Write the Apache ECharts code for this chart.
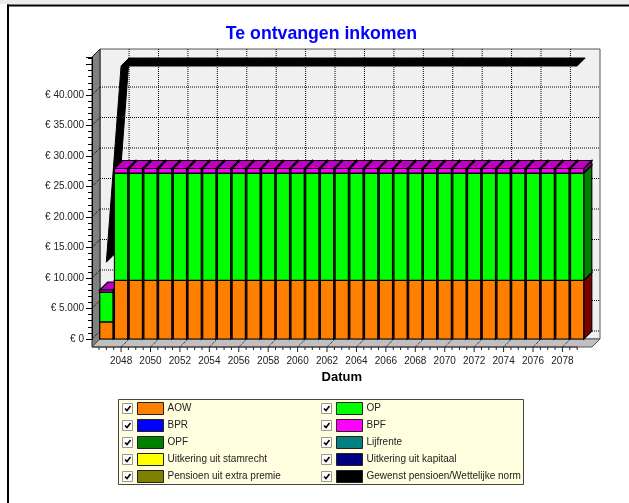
<!DOCTYPE html>
<html>
<head>
<meta charset="utf-8">
<title>Te ontvangen inkomen</title>
<style>
  html, body { margin: 0; padding: 0; background: #fff; }
  #main { width: 629px; height: 503px; }
</style>
<script src="https://cdn.jsdelivr.net/npm/echarts@6/dist/echarts.min.js"></script>
</head>
<body>
<div id="main"></div>
<script>
// data
var jaren = ['2047','2048','2049','2050','2051','2052','2053','2054','2055','2056','2057','2058','2059','2060','2061','2062','2063','2064','2065','2066','2067','2068','2069','2070','2071','2072','2073','2074','2075','2076','2077','2078','2079'];
var aow = [2800,9600,9600,9600,9600,9600,9600,9600,9600,9600,9600,9600,9600,9600,9600,9600,9600,9600,9600,9600,9600,9600,9600,9600,9600,9600,9600,9600,9600,9600,9600,9600,9600];
var bpr = [0,0,0,0,0,0,0,0,0,0,0,0,0,0,0,0,0,0,0,0,0,0,0,0,0,0,0,0,0,0,0,0,0];
var opf = [0,0,0,0,0,0,0,0,0,0,0,0,0,0,0,0,0,0,0,0,0,0,0,0,0,0,0,0,0,0,0,0,0];
var stamrecht = [0,0,0,0,0,0,0,0,0,0,0,0,0,0,0,0,0,0,0,0,0,0,0,0,0,0,0,0,0,0,0,0,0];
var extraPremie = [0,0,0,0,0,0,0,0,0,0,0,0,0,0,0,0,0,0,0,0,0,0,0,0,0,0,0,0,0,0,0,0,0];
var op = [4900,17600,17600,17600,17600,17600,17600,17600,17600,17600,17600,17600,17600,17600,17600,17600,17600,17600,17600,17600,17600,17600,17600,17600,17600,17600,17600,17600,17600,17600,17600,17600,17600];
var bpf = [330,750,750,750,750,750,750,750,750,750,750,750,750,750,750,750,750,750,750,750,750,750,750,750,750,750,750,750,750,750,750,750,750];
var lijfrente = [0,0,0,0,0,0,0,0,0,0,0,0,0,0,0,0,0,0,0,0,0,0,0,0,0,0,0,0,0,0,0,0,0];
var kapitaal = [0,0,0,0,0,0,0,0,0,0,0,0,0,0,0,0,0,0,0,0,0,0,0,0,0,0,0,0,0,0,0,0,0];
var gewenst = [12600,44750,44750,44750,44750,44750,44750,44750,44750,44750,44750,44750,44750,44750,44750,44750,44750,44750,44750,44750,44750,44750,44750,44750,44750,44750,44750,44750,44750,44750,44750,44750,44750];
var yTicks = [0,5000,10000,15000,20000,25000,30000,35000,40000];

var depth = 8;
var dash = [1, 1];

// stacking order of the bars
var stapel = [
  { name: 'AOW', data: aow, color: '#ff8000', side: '#7a0000', top: '#c06000' },
  { name: 'BPR', data: bpr, color: '#0000ff', side: '#000080', top: '#0000c0' },
  { name: 'OPF', data: opf, color: '#008000', side: '#004000', top: '#006000' },
  { name: 'Uitkering uit stamrecht', data: stamrecht, color: '#ffff00', side: '#808000', top: '#c0c000' },
  { name: 'Pensioen uit extra premie', data: extraPremie, color: '#808000', side: '#404000', top: '#606000' },
  { name: 'OP', data: op, color: '#00ff00', side: '#008000', top: '#00c000' },
  { name: 'Lijfrente', data: lijfrente, color: '#008080', side: '#004040', top: '#006060' },
  { name: 'Uitkering uit kapitaal', data: kapitaal, color: '#000080', side: '#000040', top: '#000060' },
  { name: 'BPF', data: bpf, color: '#ff00ff', side: '#800080', top: '#c000c0' }
];

// legend rows, left and right column
var legendaLinks = [['AOW', '#ff8000'], ['BPR', '#0000ff'], ['OPF', '#008000'], ['Uitkering uit stamrecht', '#ffff00'], ['Pensioen uit extra premie', '#808000']];
var legendaRechts = [['OP', '#00ff00'], ['BPF', '#ff00ff'], ['Lijfrente', '#008080'], ['Uitkering uit kapitaal', '#000080'], ['Gewenst pensioen/Wettelijke norm', '#000000']];

function euro(v) {
  return '€ ' + String(v).replace(/\B(?=(\d{3})+$)/g, '.');
}

// walls, floor, dotted grid and the ticks under the floor
function renderDecor(params, api) {
  var cs = params.coordSys;
  var x0 = cs.x + 1, x1 = x0 + 500;
  var yTop = cs.y, yBot = cs.y + cs.height;
  var band = api.size([1, 0])[0];
  var kids = [];
  var edge = { stroke: '#222', lineWidth: 1 };

  kids.push({ type: 'rect', shape: { x: x0, y: yTop - depth, width: 500, height: yBot - yTop + depth },
    style: { fill: '#f0f0f0', stroke: '#555', lineWidth: 1 } });
  kids.push({ type: 'polygon', shape: { points: [[x0 - depth, yTop], [x0, yTop - depth], [x0, yBot], [x0 - depth, yBot + depth]] },
    style: Object.assign({ fill: '#808080' }, edge) });
  kids.push({ type: 'polygon', shape: { points: [[x0 - depth, yBot + depth], [x0, yBot], [x1, yBot], [x1 - depth, yBot + depth]] },
    style: { fill: '#c0c0c0', stroke: '#555', lineWidth: 1 } });

  yTicks.forEach(function (v) {
    var y = api.coord([0, v])[1];
    kids.push({ type: 'line', shape: { x1: x0 - depth, y1: y, x2: x0, y2: y - depth },
      style: { stroke: '#000', lineDash: dash, lineWidth: 1 } });
    kids.push({ type: 'line', shape: { x1: x0, y1: y - depth, x2: x1, y2: y - depth },
      style: { stroke: '#000', lineDash: dash, lineWidth: 1 } });
  });

  jaren.forEach(function (j, i) {
    var x = api.coord([i, 0])[0];
    if (i % 2 === 1) {
      kids.push({ type: 'line', shape: { x1: x + depth, y1: yTop - depth, x2: x + depth, y2: yBot },
        style: { stroke: '#000', lineDash: dash, lineWidth: 1 } });
      kids.push({ type: 'line', shape: { x1: x, y1: yBot + depth, x2: x + depth, y2: yBot },
        style: { stroke: '#000', lineDash: dash, lineWidth: 1 } });
      kids.push({ type: 'line', shape: { x1: x, y1: yBot + depth, x2: x, y2: yBot + depth + 5 }, style: edge });
    }
    kids.push({ type: 'line', shape: { x1: x - band / 2, y1: yBot + depth, x2: x - band / 2, y2: yBot + depth + 3 }, style: edge });
    if (i % 2 === 0) {
      kids.push({ type: 'line', shape: { x1: x, y1: yBot + depth, x2: x, y2: yBot + depth + 3 }, style: edge });
    }
  });
  kids.push({ type: 'line', shape: { x1: x0 - depth, y1: yBot + depth, x2: api.coord([32, 0])[0], y2: yBot + depth },
    style: { stroke: '#333', lineWidth: 1 } });

  return { type: 'group', children: kids };
}

function renderLijn(params, api) {
  var i = api.value(0);
  if (i >= gewenst.length - 1) return null;
  var a = api.coord([i, gewenst[i]]);
  var b = api.coord([i + 1, gewenst[i + 1]]);
  return {
    type: 'polygon',
    shape: { points: [a, b, [b[0] + depth, b[1] - depth], [a[0] + depth, a[1] - depth]] },
    style: { fill: '#000', stroke: '#000', lineWidth: 1 }
  };
}

function renderBalk(serie, basis) {
  return function (params, api) {
    var i = api.value(0);
    var v = api.value(1);
    if (!v) return null;
    var w = api.size([1, 0])[0] * 0.9;
    var cx = api.coord([i, 0])[0];
    var l = cx - w / 2, r = cx + w / 2;
    var yb = api.coord([i, basis[i]])[1];
    var yt = api.coord([i, basis[i] + v])[1];
    var rand = { stroke: '#000', lineWidth: 1.2 };
    // later years must cover the side of the year before
    return {
      type: 'group',
      children: [
        { type: 'polygon', z2: i * 2, shape: { points: [[r, yt], [r + depth, yt - depth], [r + depth, yb - depth], [r, yb]] },
          style: Object.assign({ fill: serie.side }, rand) },
        { type: 'polygon', z2: i * 2, shape: { points: [[l, yt], [l + depth, yt - depth], [r + depth, yt - depth], [r, yt]] },
          style: Object.assign({ fill: serie.top }, rand) },
        { type: 'rect', z2: i * 2 + 1, shape: { x: l, y: yt, width: w, height: yb - yt },
          style: Object.assign({ fill: serie.color }, rand) }
      ]
    };
  };
}

var series = [
  { type: 'custom', name: 'decor', silent: true, clip: false, renderItem: renderDecor, data: [[0, 0]], z: 1 },
  { type: 'custom', name: 'Gewenst pensioen/Wettelijke norm', silent: true, clip: false, renderItem: renderLijn,
    data: gewenst.map(function (v, i) { return [i, v]; }), z: 1 }
];
var opgeteld = jaren.map(function () { return 0; });
stapel.forEach(function (s) {
  var basis = opgeteld.slice();
  series.push({
    type: 'custom', name: s.name, silent: true, clip: false, z: 2,
    renderItem: renderBalk(s, basis),
    data: s.data.map(function (v, i) { return [i, v]; })
  });
  opgeteld = opgeteld.map(function (t, i) { return t + s.data[i]; });
});

// legend box with check boxes, all real text
function legendaKolom(rijen, xBox) {
  var uit = [];
  rijen.forEach(function (rij, i) {
    var y = 408.5 + i * 17;
    uit.push({ type: 'rect', shape: { x: xBox, y: y - 5, width: 10, height: 10 },
      style: { fill: '#fff', stroke: '#999', lineWidth: 1 } });
    uit.push({ type: 'polyline', shape: { points: [[xBox + 2.5, y], [xBox + 4.5, y + 2], [xBox + 8, y - 2.5]] },
      style: { fill: 'none', stroke: '#000', lineWidth: 1.6 } });
    uit.push({ type: 'rect', shape: { x: xBox + 15, y: y - 6, width: 26, height: 12 },
      style: { fill: rij[1], stroke: '#222', lineWidth: 1 } });
    uit.push({ type: 'text', x: xBox + 45, y: y, style: { text: rij[0], fill: '#222',
      font: '10px "Liberation Sans", Arial, sans-serif', verticalAlign: 'middle' } });
  });
  return uit;
}

var graphic = [
  { type: 'rect', shape: { x: 0, y: 0, width: 629, height: 4 }, style: { fill: '#ececec' } },
  { type: 'rect', shape: { x: 7, y: 4.5, width: 622, height: 2 }, style: { fill: '#000' } },
  { type: 'rect', shape: { x: 7, y: 4.5, width: 2, height: 498.5 }, style: { fill: '#000' } },
  { type: 'rect', shape: { x: 118.5, y: 399.5, width: 405, height: 85 },
    style: { fill: '#ffffe0', stroke: '#444', lineWidth: 1 } }
].concat(legendaKolom(legendaLinks, 122.5), legendaKolom(legendaRechts, 321.5));

var chart = echarts.init(document.getElementById('main'));
chart.setOption({
  animation: false,
  backgroundColor: '#fff',
  title: {
    text: 'Te ontvangen inkomen',
    left: 316.5, top: 20, textAlign: 'center',
    textStyle: { color: '#0000ff', fontSize: 17.7, fontWeight: 'bold', fontFamily: '"Liberation Sans", Arial, sans-serif' }
  },
  grid: { left: 99, top: 57, width: 485.5, height: 282 },
  xAxis: {
    type: 'category', data: jaren, offset: 8, z: 5,
    name: 'Datum', nameLocation: 'middle', nameGap: 18,
    nameTextStyle: { color: '#000', fontSize: 13, fontWeight: 'bold', fontFamily: '"Liberation Sans", Arial, sans-serif' },
    axisLine: { show: false }, axisTick: { show: false },
    axisLabel: {
      color: '#222', fontSize: 10, margin: 9, fontFamily: '"Liberation Sans", Arial, sans-serif',
      interval: function (i) { return i % 2 === 1; }
    }
  },
  yAxis: {
    type: 'value', min: 0, max: 46230, interval: 5000, offset: 7, z: 5,
    splitLine: { show: false },
    axisLine: { show: true, onZero: false, lineStyle: { color: '#000' } },
    axisTick: { show: true, length: 6, lineStyle: { color: '#000' } },
    minorTick: { show: true, splitNumber: 5, length: 4, lineStyle: { color: '#000' } },
    axisLabel: {
      color: '#222', fontSize: 10, margin: 8, fontFamily: '"Liberation Sans", Arial, sans-serif',
      formatter: function (v) { return yTicks.indexOf(v) >= 0 ? euro(v) : ''; }
    }
  },
  graphic: graphic,
  series: series
});
</script>
</body>
</html>
